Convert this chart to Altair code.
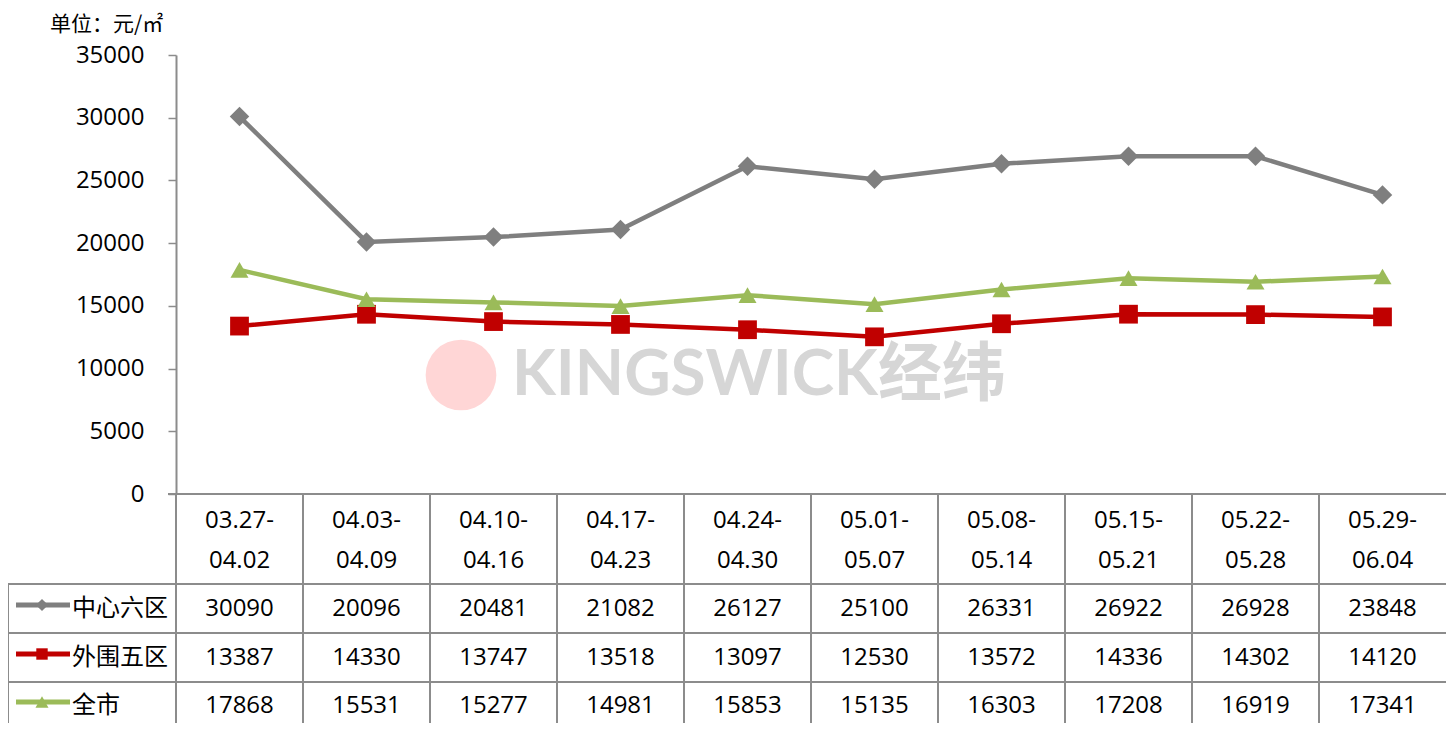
import altair as alt
import pandas as pd

# ---- data ----
period_start = ["03.27-", "04.03-", "04.10-", "04.17-", "04.24-", "05.01-", "05.08-", "05.15-", "05.22-", "05.29-"]
period_end = ["04.02", "04.09", "04.16", "04.23", "04.30", "05.07", "05.14", "05.21", "05.28", "06.04"]
series_names = ["中心六区", "外围五区", "全市"]
center_six = [30090, 20096, 20481, 21082, 26127, 25100, 26331, 26922, 26928, 23848]
outer_five = [13387, 14330, 13747, 13518, 13097, 12530, 13572, 14336, 14302, 14120]
whole_city = [17868, 15531, 15277, 14981, 15853, 15135, 16303, 17208, 16919, 17341]
y_ticks = [0, 5000, 10000, 15000, 20000, 25000, 30000, 35000]
unit_label = "单位：元/㎡"
watermark = "KINGSWICK经纬"

colors = ["#7f7f7f", "#c00000", "#9bbb59"]
shapes = ["diamond", "square", "triangle-up"]
marker_sizes = [380, 324, 420]
legend_sizes = [150, 130, 170]

FONT = "Open Sans, Noto Sans CJK SC, sans-serif"
CJK = "Noto Sans CJK SC, Open Sans, sans-serif"
GRID = "#8c8c8c"
W, H = 1270, 439

n = len(period_start)
cat_df = pd.DataFrame({
    "idx": list(range(n)),
    "start": period_start,
    "end": period_end,
})
cat_df["boundary"] = cat_df["idx"] - 0.5

all_values = [center_six, outer_five, whole_city]
rows = []
for s, vals in zip(series_names, all_values):
    for i, v in enumerate(vals):
        rows.append({"idx": i, "series": s, "value": v})
df = pd.DataFrame(rows)

xscale = alt.Scale(domain=[-0.5, n - 0.5], nice=False, zero=False)
X = alt.X("idx:Q", scale=xscale, axis=None)
color = alt.Color("series:N", scale=alt.Scale(domain=series_names, range=colors), legend=None)

one = pd.DataFrame({"k": [0]})

layers = []

# watermark
layers.append(alt.Chart(one).mark_point(filled=True, shape="circle", size=5000, color="#ffd6d6", opacity=1)
              .encode(x=alt.value(285), y=alt.value(320)))
layers.append(alt.Chart(pd.DataFrame({"t": [watermark]})).mark_text(
    align="left", baseline="middle", font="Lato, Noto Sans CJK SC, sans-serif", fontSize=64,
    fontWeight="bold", color="#d6d6d6")
    .encode(x=alt.value(336), y=alt.value(321), text="t:N"))

# lines
base = alt.Chart(df)
layers.append(base.mark_line(strokeWidth=4.5).encode(
    x=X,
    y=alt.Y("value:Q", scale=alt.Scale(domain=[0, 35000], nice=False, zero=True),
            axis=alt.Axis(values=y_ticks, grid=False, title=None, domainColor=GRID, domainWidth=2,
                          tickColor=GRID, tickWidth=1.5, tickSize=8, labelFont=FONT, labelFontSize=24,
                          labelColor="#000000", labelPadding=24, format="d")),
    color=color,
    detail="series:N",
))
layers.append(base.mark_point(filled=True, opacity=1).encode(
    x=X, y="value:Q", color=color,
    shape=alt.Shape("series:N", scale=alt.Scale(domain=series_names, range=shapes), legend=None),
    size=alt.Size("series:N", scale=alt.Scale(domain=series_names, range=marker_sizes), legend=None),
))

# table vertical separators
layers.append(alt.Chart(cat_df).mark_rule(color=GRID, strokeWidth=2).encode(
    x=alt.X("boundary:Q", scale=xscale, axis=None), y=alt.value(H), y2=alt.value(720)))
# x axis line
layers.append(alt.Chart(one).mark_rule(color=GRID, strokeWidth=2).encode(
    x=alt.value(-8), x2=alt.value(W), y=alt.value(H)))
# horizontal row lines
for yy in [529, 578, 627]:
    layers.append(alt.Chart(one).mark_rule(color=GRID, strokeWidth=2).encode(
        x=alt.value(-168), x2=alt.value(W), y=alt.value(yy)))
# left border of table
layers.append(alt.Chart(one).mark_rule(color=GRID, strokeWidth=2).encode(
    x=alt.value(-168), y=alt.value(529), y2=alt.value(720)))

# header text
txt = dict(font=FONT, fontSize=24, color="#000000", baseline="middle", align="center")
layers.append(alt.Chart(cat_df).mark_text(**txt).encode(x=X, y=alt.value(466), text="start:N"))
layers.append(alt.Chart(cat_df).mark_text(**txt).encode(x=X, y=alt.value(506), text="end:N"))

# values and legend column
row_y = [554, 603, 651]
for s, c, shp, ls, ry in zip(series_names, colors, shapes, legend_sizes, row_y):
    sub = df[df["series"] == s]
    layers.append(alt.Chart(sub).mark_text(**txt).encode(x=X, y=alt.value(ry), text="value:Q"))
    layers.append(alt.Chart(one).mark_rule(color=c, strokeWidth=5).encode(
        x=alt.value(-160), x2=alt.value(-106), y=alt.value(ry - 4)))
    layers.append(alt.Chart(one).mark_point(filled=True, opacity=1, shape=shp, size=ls, color=c).encode(
        x=alt.value(-134), y=alt.value(ry - 4)))
    layers.append(alt.Chart(pd.DataFrame({"t": [s]})).mark_text(
        font=CJK, fontSize=24, color="#000000", baseline="middle", align="left").encode(
        x=alt.value(-104), y=alt.value(ry), text="t:N"))

# unit label
layers.append(alt.Chart(pd.DataFrame({"t": [unit_label]})).mark_text(
    font=CJK, fontSize=21, color="#000000", baseline="middle", align="left").encode(
    x=alt.value(-126), y=alt.value(-30), text="t:N"))

chart = alt.layer(*layers).properties(
    width=W, height=H,
    autosize=alt.AutoSizeParams(type="none"),
    padding={"left": 168, "top": 47, "right": 0, "bottom": 229},
).configure_view(stroke=None)

chart.save("out.html", embed_options={"renderer": "svg", "actions": False})
